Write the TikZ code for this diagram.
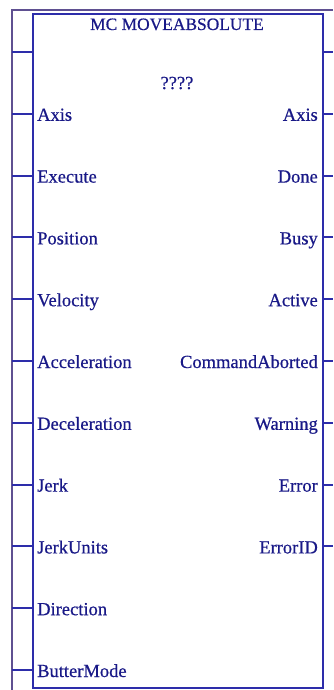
\documentclass[tikz,border=0pt]{standalone}
\usepackage{fontspec}
\setmainfont{Liberation Serif}[FakeBold=0.6]
\definecolor{boxblue}{RGB}{45,45,170}
\definecolor{frameviolet}{RGB}{95,80,145}
\definecolor{labelnavy}{RGB}{25,25,135}
\begin{document}
\begin{tikzpicture}[x=1pt,y=1pt,
  boxline/.style={draw=boxblue,line width=2pt},
  frameline/.style={draw=frameviolet,line width=2pt},
  pinlabel/.style={inner sep=0pt,text=labelnavy,font=\fontsize{18.5}{21}\selectfont},
  titlelabel/.style={inner sep=0pt,text=labelnavy,font=\fontsize{17.4}{20}\selectfont}]
\useasboundingbox (0,0) rectangle (333,-690);
% outer frame
\coordinate (ftop) at (12,-10);
\coordinate (fbot) at (12,-690);
\coordinate (fright) at (333,-10);
\draw[frameline] (fbot) -- (ftop) -- (fright);
% block
\coordinate (bl) at (33,-688);
\coordinate (tr) at (322.5,-14);
\draw[boxline] (bl) rectangle (tr);
\node[titlelabel,anchor=base] (title) at (177,-30) {MC MOVEABSOLUTE};
\node[pinlabel,anchor=base] (inst) at (177,-89) {????};
% top ticks
\coordinate (lt0) at (12,-52);
\coordinate (lb0) at (33,-52);
\coordinate (rb0) at (322.5,-52);
\coordinate (rt0) at (333,-52);
\draw[boxline] (lt0) -- (lb0);
\draw[boxline] (rb0) -- (rt0);
% input pins
\foreach \n [count=\i] in {Axis,Execute,Position,Velocity,Acceleration,Deceleration,Jerk,JerkUnits,Direction,ButterMode}{
  \pgfmathsetmacro{\yy}{-52-61.8*\i}
  \coordinate (lt\i) at (12,\yy);
  \coordinate (lb\i) at (33,\yy);
  \draw[boxline] (lt\i) -- (lb\i);
  \node[pinlabel,anchor=base west] (in\i) at (37,\yy-7) {\n};
}
% output pins
\foreach \n [count=\i] in {Axis,Done,Busy,Active,CommandAborted,Warning,Error,ErrorID}{
  \pgfmathsetmacro{\yy}{-52-61.8*\i}
  \coordinate (rb\i) at (322.5,\yy);
  \coordinate (rt\i) at (333,\yy);
  \draw[boxline] (rb\i) -- (rt\i);
  \node[pinlabel,anchor=base east] (out\i) at (318,\yy-7) {\n};
}
\end{tikzpicture}
\end{document}
